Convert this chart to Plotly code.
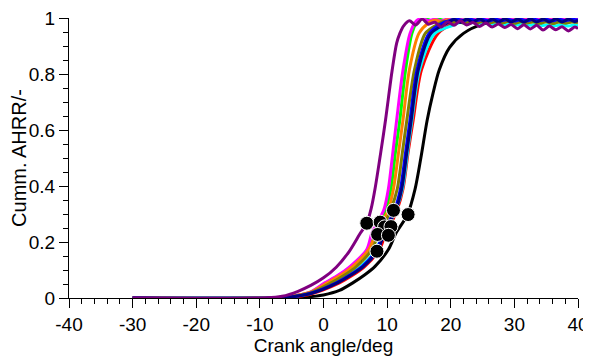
import plotly.graph_objects as go

# ---- data ----
purple_x = [-30, -9, -6.5, -4, -2, 0, 2, 4, 5.8, 6.8, 7.5, 8.1, 9, 9.75, 10.8, 11.5, 12, 12.6, 13.5,
            14.5, 15.5, 16.5, 17.5, 18.5, 19.5, 20.5, 21.5, 22.5, 23.5, 24.5, 25.5, 26.5, 27.5, 28.5,
            29.5, 30.5, 31.5, 32.5, 33.5, 34.5, 35.5, 36.5, 37.5, 38.5, 39.5, 40]
purple_y = [0, 0, 0.006, 0.024, 0.045, 0.072, 0.11, 0.165, 0.232, 0.267, 0.32, 0.39, 0.52, 0.636, 0.815,
            0.91, 0.945, 0.972, 0.99,
            0.975, 0.996, 0.978, 0.985, 0.968, 0.987, 0.974, 0.99, 0.975, 0.984, 0.97, 0.982, 0.968,
            0.979, 0.966, 0.977, 0.962, 0.976, 0.961, 0.974, 0.957, 0.971, 0.958, 0.969, 0.954, 0.968,
            0.962]

magenta_x = [-30, -8, -5, -2, 0.2, 2.2, 4.2, 6.8, 7.6, 8.5, 9.5, 10.2, 10.9, 11.5, 12.5, 13.6, 14.6,
             15.5, 16.5, 17.5, 18.5, 19.5, 20.5, 21.5, 22.5, 23.5, 24.5, 25.5, 26.5, 27.5, 28.5, 29.5,
             30.5, 31.5, 32.5, 33.5, 34.5, 35.5, 36.5, 37.5, 38.5, 39.5, 40]
magenta_y = [0, 0, 0.006, 0.022, 0.054, 0.08, 0.113, 0.173, 0.232, 0.27, 0.316, 0.39, 0.52, 0.636, 0.815,
             0.945, 0.99,
             0.998, 0.99, 0.996, 0.989, 0.997, 0.99, 0.996, 0.99, 0.997, 0.989, 0.996, 0.99, 0.997, 0.99,
             0.996, 0.989, 0.997, 0.99, 0.996, 0.99, 0.997, 0.989, 0.996, 0.99, 0.997,
             0.993]

green_x = [-30, -8, -5, -2, 0.4, 2.4, 4.4, 7.0, 8.2, 9.0, 9.8, 10.6, 11.3, 12.0, 12.9, 13.9, 14.8,
           16, 17, 18, 19, 20, 21, 22, 23, 24, 25, 26, 27, 28, 29, 30, 31, 32, 33, 34, 35, 36, 37, 38,
           39, 40]
green_y = [0, 0, 0.006, 0.021, 0.054, 0.08, 0.113, 0.173, 0.232, 0.27, 0.316, 0.39, 0.52, 0.636, 0.815,
           0.945, 0.99,
           0.998, 0.99, 0.997, 0.991, 0.996, 0.99, 0.995, 0.988, 0.995, 0.989, 0.994, 0.988, 0.995, 0.989,
           0.994, 0.988, 0.994, 0.987, 0.994, 0.988, 0.993, 0.987, 0.993, 0.988, 0.992]

orange_x = [-30, -8, -5, -2, 0.6, 2.6, 4.6, 7.1, 8.3, 9.2, 10.2, 11.0, 11.8, 12.5, 13.5, 15.0, 16.5,
            17.5, 18.5, 19.5, 20.5, 21.5, 22.5, 23.5, 24.5, 25.5, 26.5, 27.5, 28.5, 29.5, 30.5, 31.5,
            32.5, 33.5, 34.5, 35.5, 36.5, 37.5, 38.5, 39.5, 40]
orange_y = [0, 0, 0.006, 0.021, 0.054, 0.08, 0.113, 0.173, 0.232, 0.27, 0.316, 0.39, 0.52, 0.636, 0.815,
            0.945, 0.982,
            0.993, 0.986, 0.994, 0.987, 0.993, 0.986, 0.993, 0.987, 0.992, 0.986, 0.993, 0.986, 0.992,
            0.987, 0.993, 0.986, 0.992, 0.986, 0.993, 0.987, 0.992, 0.986, 0.992,
            0.99]

olive_x = [-30, -8, -5, -2, 1.2, 3.2, 5.2, 7.6, 8.7, 9.7, 10.6, 11.6, 12.4, 13.1, 14.3, 16.0, 18.0,
           19, 20, 21, 22, 23, 24, 25, 26, 27, 28, 29, 30, 31, 32, 33, 34, 35, 36, 37, 38, 39, 40]
olive_y = [0, 0, 0.005, 0.019, 0.054, 0.08, 0.113, 0.173, 0.232, 0.27, 0.316, 0.39, 0.52, 0.636, 0.815,
           0.945, 0.978,
           0.988, 0.982, 0.989, 0.982, 0.988, 0.981, 0.988, 0.982, 0.987, 0.981, 0.988, 0.981, 0.987,
           0.982, 0.987, 0.981, 0.987, 0.98, 0.986, 0.981, 0.986, 0.984]

blue_x = [-30, -8, -5, -2, 2.0, 4.0, 6.1, 8.4, 9.3, 10.2, 11.2, 12.1, 12.9, 13.6, 14.7, 16.6, 19.0,
          20, 21, 22, 23, 24, 25, 26, 27, 28, 29, 30, 31, 32, 33, 34, 35, 36, 37, 38, 39, 40]
blue_y = [0, 0, 0.004, 0.017, 0.054, 0.08, 0.113, 0.173, 0.232, 0.27, 0.316, 0.39, 0.52, 0.636, 0.815,
          0.945, 0.985,
          0.992, 0.996, 0.99, 0.996, 0.99, 0.995, 0.99, 0.996, 0.99, 0.995, 0.989, 0.995, 0.99, 0.996,
          0.99, 0.995, 0.99, 0.996, 0.99, 0.995, 0.993]

navy_x = [-30, -8, -5, -2, 2.2, 4.2, 6.3, 8.6, 9.5, 10.4, 11.4, 12.3, 13.1, 13.8, 14.9, 16.9, 19.5,
          20.5, 21.5, 22.5, 23.5, 24.5, 25.5, 26.5, 27.5, 28.5, 29.5, 30.5, 31.5, 32.5, 33.5, 34.5,
          35.5, 36.5, 37.5, 38.5, 39.5, 40]
navy_y = [0, 0, 0.004, 0.016, 0.054, 0.08, 0.113, 0.173, 0.232, 0.27, 0.316, 0.39, 0.52, 0.636, 0.815,
          0.945, 0.982,
          0.995, 0.984, 0.996, 0.985, 0.997, 0.985, 0.996, 0.986, 0.997, 0.986, 0.996, 0.985, 0.997,
          0.986, 0.996, 0.986, 0.997, 0.986, 0.996, 0.987,
          0.992]

cyan_x = [-30, -8, -5, -2, 1.8, 3.8, 5.9, 8.3, 9.3, 10.4, 11.4, 12.4, 13.2, 13.9, 15.1, 17.5, 20.5,
          21.5, 22.5, 23.5, 24.5, 25.5, 26.5, 27.5, 28.5, 29.5, 30.5, 31.5, 32.5, 33.5, 34.5, 35.5,
          36.5, 37.5, 38.5, 39.5, 40]
cyan_y = [0, 0, 0.005, 0.018, 0.054, 0.08, 0.113, 0.173, 0.232, 0.27, 0.316, 0.39, 0.52, 0.636, 0.815,
          0.945, 0.975,
          0.985, 0.978, 0.984, 0.977, 0.983, 0.976, 0.982, 0.976, 0.981, 0.975, 0.98, 0.974, 0.979,
          0.973, 0.978, 0.972, 0.977, 0.971, 0.976,
          0.972]

red_x = [-30, -7, -4.5, -2, 2.5, 4.5, 6.5, 8.8, 9.8, 10.7, 11.6, 12.5, 13.3, 14.1, 15.4, 18.0, 21.0,
         22, 23, 24, 25, 26, 27, 28, 29, 30, 31, 32, 33, 34, 35, 36, 37, 38, 39, 40]
red_y = [0, 0, 0.004, 0.014, 0.054, 0.08, 0.113, 0.173, 0.232, 0.27, 0.316, 0.39, 0.52, 0.636, 0.815,
         0.945, 0.988,
         0.996, 0.998, 0.994, 0.998, 0.995, 0.998, 0.994, 0.998, 0.995, 0.998, 0.994, 0.998, 0.995,
         0.998, 0.994, 0.998, 0.994, 0.998, 0.995]

black_x = [-30, -6, -3, 0, 2.5, 4.6, 6.5, 8.1, 10.2, 11.4, 13.2, 14.4, 15.3, 16.3, 17.2, 18.2, 19.8,
           22.0, 25.0, 27.5, 30, 32, 34, 36, 38, 40]
black_y = [0, 0, 0.003, 0.011, 0.027, 0.054, 0.083, 0.113, 0.173, 0.232, 0.298, 0.39, 0.5, 0.636, 0.73,
           0.815, 0.894, 0.945, 0.978, 0.988, 0.993, 0.996, 0.993, 0.996, 0.994, 0.995]

dot_x = [6.8, 8.9, 11.0, 9.6, 10.6, 8.5, 10.2, 8.4, 13.3]
dot_y = [0.267, 0.271, 0.313, 0.254, 0.255, 0.227, 0.224, 0.167, 0.298]

x_tickvals = [-40, -30, -20, -10, 0, 10, 20, 30, 40]
x_ticktext = ["-40", "-30", "-20", "-10", "0", "10", "20", "30", "40"]
y_tickvals = [0, 0.2, 0.4, 0.6, 0.8, 1]
y_ticktext = ["0", "0.2", "0.4", "0.6", "0.8", "1"]

series = [
    ("black", black_x, black_y, "#000000"),
    ("red", red_x, red_y, "#FF0000"),
    ("cyan", cyan_x, cyan_y, "#00FFFF"),
    ("green", green_x, green_y, "#00FF00"),
    ("magenta", magenta_x, magenta_y, "#FF00FF"),
    ("orange", orange_x, orange_y, "#FF8000"),
    ("olive", olive_x, olive_y, "#808000"),
    ("blue", blue_x, blue_y, "#0000FF"),
    ("navy", navy_x, navy_y, "#000080"),
    ("purple", purple_x, purple_y, "#800080"),
]

fig = go.Figure()
for name, xs, ys, col in series:
    fig.add_trace(go.Scatter(x=xs, y=ys, mode="lines", name=name,
                             line=dict(color=col, width=3, shape="spline", smoothing=0.8)))

fig.add_trace(go.Scatter(x=dot_x, y=dot_y, mode="markers", name="points",
                         marker=dict(size=14, color="black", line=dict(color="white", width=1))))

FONT = "Liberation Sans, Arial, sans-serif"
# the page adds an 8px body margin, so the figure is sized to fit the window
fig.update_layout(
    width=583, height=350,
    margin=dict(l=61, r=13, t=10, b=60),
    paper_bgcolor="white", plot_bgcolor="white",
    showlegend=False,
    font=dict(family=FONT, size=18, color="black"),
)
fig.update_xaxes(
    range=[-40, 40], tickmode="array", tickvals=x_tickvals, ticktext=x_ticktext,
    ticks="outside", ticklen=9, tickwidth=1, tickcolor="black",
    showline=True, linecolor="black", linewidth=1,
    showgrid=False, zeroline=False, automargin=False, ticklabeloverflow="allow",
    minor=dict(tick0=-40, dtick=2, ticks="outside", ticklen=5, tickwidth=1, tickcolor="black", showgrid=False),
    tickfont=dict(size=19),
    title=dict(text="Crank angle/deg", font=dict(size=19), standoff=2),
)
fig.update_yaxes(
    range=[0, 1], tickmode="array", tickvals=y_tickvals, ticktext=y_ticktext,
    ticks="outside", ticklen=9, tickwidth=1, tickcolor="black",
    showline=True, linecolor="black", linewidth=1,
    showgrid=False, zeroline=False, automargin=False, ticklabeloverflow="allow",
    minor=dict(tick0=0, dtick=0.05, ticks="outside", ticklen=5, tickwidth=1, tickcolor="black", showgrid=False),
    tickfont=dict(size=19),
    title=dict(text="Cumm. AHRR/-", font=dict(size=20), standoff=2),
)

fig.write_html("out.html")
